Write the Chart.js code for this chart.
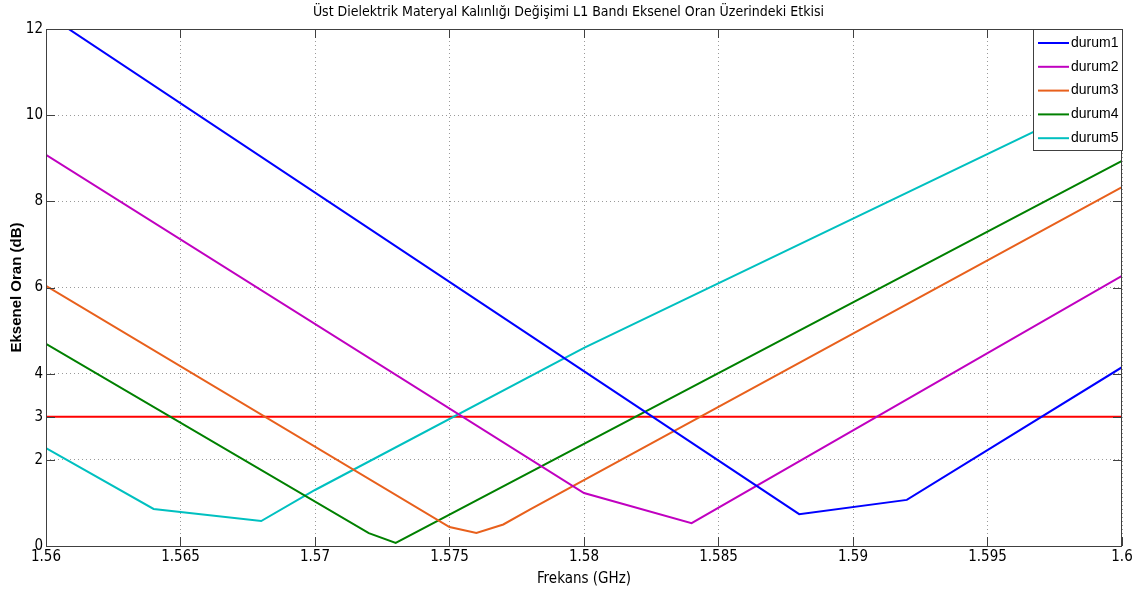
<!DOCTYPE html>
<html>
<head>
<meta charset="utf-8">
<script src="https://cdn.jsdelivr.net/npm/chart.js@4"></script>
<style>
  html, body { margin: 0; padding: 0; background: #fff; }
  #wrap { width: 1142px; height: 599px; }
</style>
</head>
<body>
<div id="wrap"><canvas id="chart"></canvas></div>
<script>
// frequency (GHz) / axial ratio (dB)
const durum1F = [1.56, 1.588, 1.592, 1.6];
const durum1V = [12.35, 0.74, 1.07, 4.15];
const durum2F = [1.56, 1.58, 1.584, 1.6];
const durum2V = [9.08, 1.23, 0.53, 6.27];
const durum3F = [1.56, 1.575, 1.576, 1.577, 1.578, 1.6];
const durum3V = [6.04, 0.44, 0.30, 0.50, 0.85, 8.33];
const durum4F = [1.56, 1.572, 1.573, 1.6];
const durum4V = [4.69, 0.30, 0.07, 8.94];
const durum5F = [1.56, 1.564, 1.568, 1.57, 1.58, 1.6];
const durum5V = [2.27, 0.86, 0.58, 1.30, 4.60, 10.6];
const refF = [1.56, 1.6];
const refV = [3, 3];

const xTicks = [1.56, 1.565, 1.57, 1.575, 1.58, 1.585, 1.59, 1.595, 1.6];
const yTicks = [0, 2, 3, 4, 6, 8, 10, 12];

function pts(f, v) {
    return f.map((x, i) => ({ x: x, y: v[i] }));
}

function series(label, f, v, color, inLegend) {
    return {
        label: label,
        data: pts(f, v),
        borderColor: color,
        backgroundColor: color,
        borderWidth: 2,
        pointRadius: 0,
        tension: 0,
        inLegend: inLegend
    };
}

// MATLAB style box: inward ticks + legend inside the axes
const matlabBox = {
    id: 'matlabBox',
    afterDraw(chart) {
        const ctx = chart.ctx;
        const a = chart.chartArea;
        const xs = chart.scales.x, ys = chart.scales.y;
        ctx.save();
        ctx.strokeStyle = '#404040';
        ctx.lineWidth = 1;
        ctx.beginPath();
        xTicks.forEach(t => {
            const px = Math.round(xs.getPixelForValue(t)) + 0.5;
            ctx.moveTo(px, a.bottom); ctx.lineTo(px, a.bottom - 9);
            ctx.moveTo(px, a.top); ctx.lineTo(px, a.top + 9);
        });
        yTicks.forEach(t => {
            const py = Math.round(ys.getPixelForValue(t)) + 0.5;
            ctx.moveTo(a.left, py); ctx.lineTo(a.left + 9, py);
            ctx.moveTo(a.right, py); ctx.lineTo(a.right - 9, py);
        });
        ctx.stroke();
        ctx.strokeRect(a.left + 0.5, a.top + 0.5, a.right - a.left - 1, a.bottom - a.top);

        // legend
        const items = chart.data.datasets.filter(d => d.inLegend);
        const bx = 1033.5, by = a.top + 0.5, bw = a.right - 1033, bh = 121;
        ctx.fillStyle = '#fff';
        ctx.fillRect(bx, by, bw, bh);
        ctx.strokeStyle = '#404040';
        ctx.strokeRect(bx, by, bw, bh);
        ctx.font = '14px "Liberation Sans", Arial, sans-serif';
        ctx.textBaseline = 'middle';
        items.forEach((d, i) => {
            const y = 43 + i * 23.8;
            ctx.strokeStyle = d.borderColor;
            ctx.lineWidth = 2;
            ctx.beginPath();
            ctx.moveTo(1038, y); ctx.lineTo(1069, y);
            ctx.stroke();
            ctx.fillStyle = '#000';
            ctx.fillText(d.label, 1071, y);
        });
        ctx.restore();
    }
};

const narrow = '"Liberation Sans Narrow", "DejaVu Sans Condensed", Arial, sans-serif';

new Chart(document.getElementById('chart'), {
    type: 'line',
    data: {
        datasets: [
            series('durum1', durum1F, durum1V, '#0000ff', true),
            series('durum2', durum2F, durum2V, '#c000c0', true),
            series('durum3', durum3F, durum3V, '#e8601c', true),
            series('durum4', durum4F, durum4V, '#008000', true),
            series('durum5', durum5F, durum5V, '#00c0c0', true),
            series('ref', refF, refV, '#ff0000', false)
        ]
    },
    options: {
        responsive: true,
        maintainAspectRatio: false,
        animation: false,
        layout: { padding: { left: 15, right: 20, top: 0, bottom: 0 } },
        plugins: {
            legend: { display: false },
            tooltip: { enabled: false },
            title: {
                display: true,
                text: 'Üst Dielektrik Materyal Kalınlığı Değişimi L1 Bandı Eksenel Oran Üzerindeki Etkisi',
                color: '#000',
                font: { family: narrow, size: 14, weight: 'normal', lineHeight: 1.2 },
                padding: { top: 4, bottom: 8.2 }
            }
        },
        scales: {
            x: {
                type: 'linear',
                min: 1.56,
                max: 1.6,
                afterBuildTicks: s => { s.ticks = xTicks.map(v => ({ value: v })); },
                afterFit: s => { s.height = 53; },
                ticks: {
                    color: '#000',
                    font: { family: narrow, size: 15 },
                    padding: 2,
                    maxRotation: 0,
                    autoSkip: false,
                    callback: v => String(parseFloat(v.toFixed(3)))
                },
                grid: { color: '#9a9a9a', drawTicks: false, lineWidth: 1 },
                border: { display: false, dash: [1, 3] },
                title: {
                    display: true,
                    text: 'Frekans (GHz)',
                    color: '#000',
                    font: { family: narrow, size: 15 },
                    padding: { top: 2, bottom: 11 }
                }
            },
            y: {
                min: 0,
                max: 12,
                afterBuildTicks: s => { s.ticks = yTicks.map(v => ({ value: v })); },
                afterFit: s => { s.width = 31; },
                ticks: {
                    color: '#000',
                    font: { family: narrow, size: 15 },
                    padding: 3,
                    autoSkip: false
                },
                grid: { color: '#9a9a9a', drawTicks: false, lineWidth: 1 },
                border: { display: false, dash: [1, 3] },
                title: {
                    display: true,
                    text: 'Eksenel Oran (dB)',
                    color: '#000',
                    font: { family: '"Liberation Sans", Arial, sans-serif', size: 15, weight: 'bold' },
                    padding: { top: -7, bottom: 2 }
                }
            }
        }
    },
    plugins: [matlabBox]
});
</script>
</body>
</html>
